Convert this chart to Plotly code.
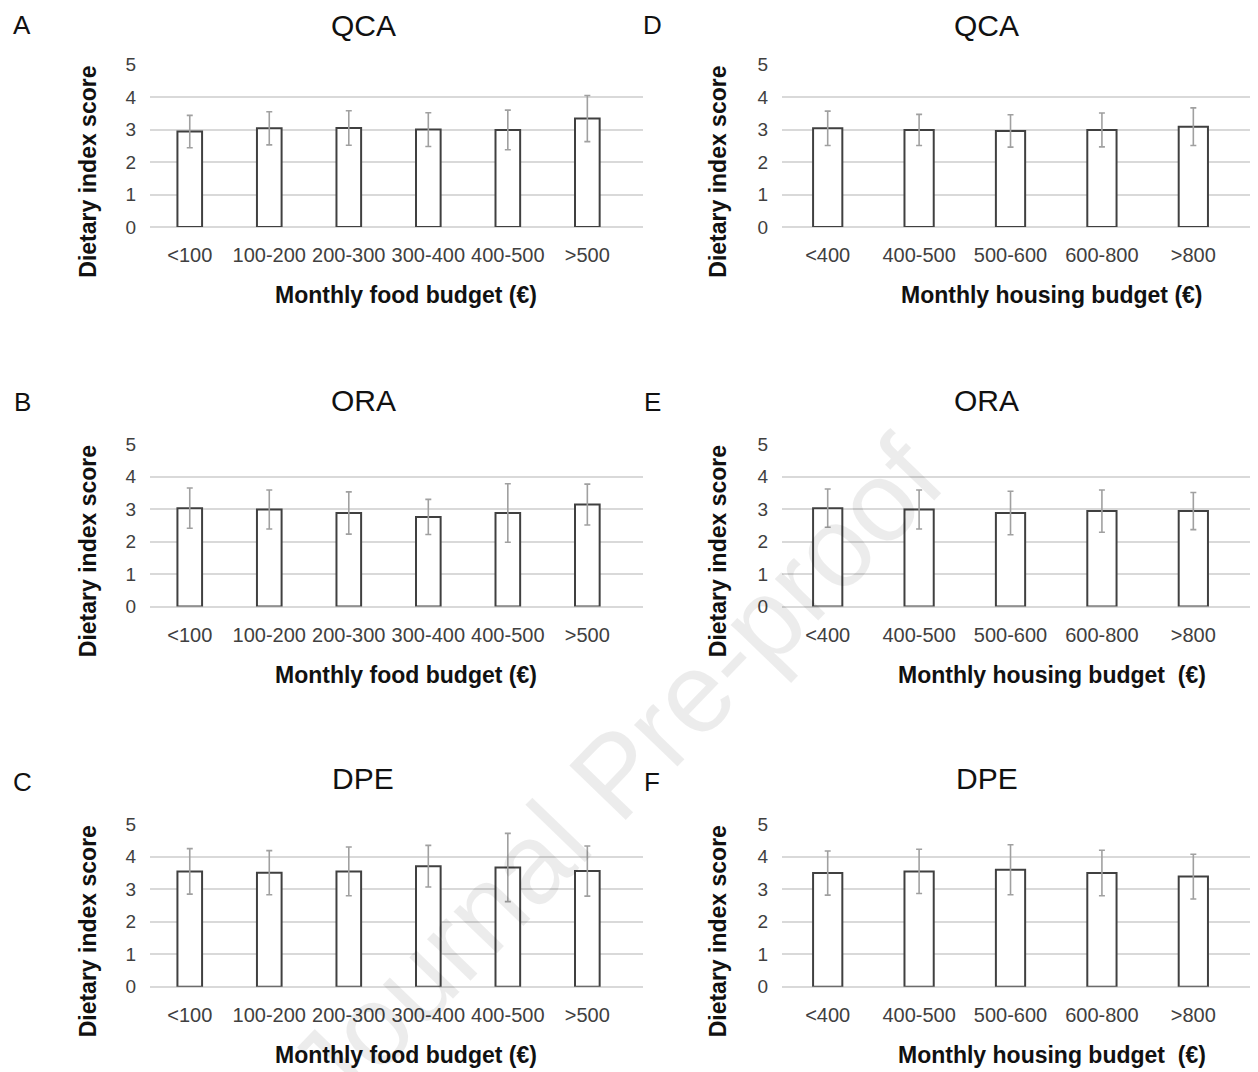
import plotly.graph_objects as go

# page body has an 8px margin
OFF = 8
FW, FH = 1258 - 2 * OFF, 1076

food_cats = ["<100", "100-200", "200-300", "300-400", "400-500", ">500"]
housing_cats = ["<400", "400-500", "500-600", "600-800", ">800"]

# Panels A-C: monthly food budget
qca_food = [2.94, 3.04, 3.05, 3.00, 2.99, 3.34]
qca_food_sd = [0.50, 0.51, 0.53, 0.52, 0.61, 0.71]
ora_food = [3.03, 2.99, 2.88, 2.76, 2.88, 3.14]
ora_food_sd = [0.62, 0.60, 0.65, 0.54, 0.90, 0.63]
dpe_food = [3.55, 3.51, 3.55, 3.71, 3.67, 3.56]
dpe_food_sd = [0.70, 0.68, 0.75, 0.64, 1.05, 0.77]

# Panels D-F: monthly housing budget
qca_house = [3.04, 2.99, 2.96, 2.99, 3.09]
qca_house_sd = [0.53, 0.48, 0.50, 0.52, 0.58]
ora_house = [3.03, 2.99, 2.88, 2.94, 2.94]
ora_house_sd = [0.59, 0.60, 0.67, 0.65, 0.57]
dpe_house = [3.50, 3.55, 3.60, 3.50, 3.39]
dpe_house_sd = [0.68, 0.68, 0.77, 0.70, 0.69]

y_ticks = [0, 1, 2, 3, 4, 5]

panels = [
    ("A", "QCA", food_cats, qca_food, qca_food_sd, "Monthly food budget (€)", 0, 0),
    ("B", "ORA", food_cats, ora_food, ora_food_sd, "Monthly food budget (€)", 0, 1),
    ("C", "DPE", food_cats, dpe_food, dpe_food_sd, "Monthly food budget (€)", 0, 2),
    ("D", "QCA", housing_cats, qca_house, qca_house_sd, "Monthly housing budget (€)", 1, 0),
    ("E", "ORA", housing_cats, ora_house, ora_house_sd, "Monthly housing budget  (€)", 1, 1),
    ("F", "DPE", housing_cats, dpe_house, dpe_house_sd, "Monthly housing budget  (€)", 1, 2),
]


def px(x):
    return (x - OFF) / FW


def py(y):
    # empirical vertical mapping of the capture
    yp = (y - 9.5) / 0.981
    return 1 - (yp - OFF) / FH


col_x = [(150, 643), (782, 1250)]
col_xrange = [[-0.5, 5.7], [-0.5, 4.62]]
col_barw = [0.31, 0.32]
row_y = [(65, 227.3), (444.3, 606.7), (824.3, 986.7)]
YMAX = 5.03

letter_x = [22, 652]
letter_y = [25, 402, 782]
title_x = [363, 987]
title_y = [26, 401, 779]
ytitle_x = [88, 718]
xtitle_x = [406, 1052]

fig = go.Figure()
annotations = []
layout = {}

FONT = "Liberation Sans, Arial, sans-serif"

for i, (letter, title, cats, vals, sd, xtitle, col, row) in enumerate(panels):
    n = i + 1
    xa = "x" if n == 1 else f"x{n}"
    ya = "y" if n == 1 else f"y{n}"
    fig.add_trace(go.Bar(
        x=cats, y=vals, xaxis=xa, yaxis=ya,
        width=col_barw[col],
        marker=dict(color="white", line=dict(color="#404040", width=2)),
        error_y=dict(type="data", array=sd, visible=True, color="#a0a0a0",
                     thickness=1.6, width=3),
        showlegend=False, hoverinfo="skip",
    ))
    x0, x1 = col_x[col]
    top5, bot = row_y[row]
    unit = (bot - top5) / 5.0
    top = bot - YMAX * unit
    xkey = "xaxis" if n == 1 else f"xaxis{n}"
    ykey = "yaxis" if n == 1 else f"yaxis{n}"
    layout[xkey] = dict(
        domain=[px(x0), px(x1)], anchor=ya, type="category",
        range=col_xrange[col], showgrid=False, showline=False, zeroline=False,
        ticks="", ticklabelstandoff=14,
        tickfont=dict(family=FONT, size=20, color="#404040"),
    )
    layout[ykey] = dict(
        domain=[py(bot), py(top)], anchor=xa, range=[0, YMAX],
        tickvals=y_ticks, showgrid=True, gridcolor="#d9d9d9",
        gridwidth=1.6, zeroline=True, zerolinecolor="#d9d9d9", zerolinewidth=1.6,
        showline=False, ticks="", ticklabelstandoff=13,
        tickfont=dict(family=FONT, size=19, color="#404040"),
    )
    annotations.append(dict(text=letter, x=px(letter_x[col]), y=py(letter_y[row]),
                            xref="paper", yref="paper", showarrow=False,
                            font=dict(family=FONT, size=26, color="#111111"),
                            xanchor="center", yanchor="middle"))
    annotations.append(dict(text=title, x=px(title_x[col]), y=py(title_y[row]),
                            xref="paper", yref="paper", showarrow=False,
                            font=dict(family=FONT, size=30, color="#111111"),
                            xanchor="center", yanchor="middle"))
    annotations.append(dict(text="<b>Dietary index score</b>", x=px(ytitle_x[col]),
                            y=py(top5 + 107), xref="paper", yref="paper", showarrow=False,
                            textangle=-90,
                            font=dict(family=FONT, size=23, color="#111111"),
                            xanchor="center", yanchor="middle"))
    annotations.append(dict(text=f"<b>{xtitle}</b>", x=px(xtitle_x[col]),
                            y=py(bot + 68), xref="paper", yref="paper", showarrow=False,
                            font=dict(family=FONT, size=23, color="#111111"),
                            xanchor="center", yanchor="middle"))

# faint diagonal watermark
annotations.append(dict(text="Journal Pre-proof", x=px(615), y=py(775), xref="paper",
                        yref="paper", showarrow=False, textangle=-46,
                        font=dict(family=FONT, size=114, color="rgba(0,0,0,0.075)"),
                        xanchor="center", yanchor="middle"))

fig.update_layout(
    width=FW, height=FH, margin=dict(l=0, r=0, t=0, b=0),
    paper_bgcolor="white", plot_bgcolor="white",
    annotations=annotations, **layout,
)

fig.write_html("out.html")
